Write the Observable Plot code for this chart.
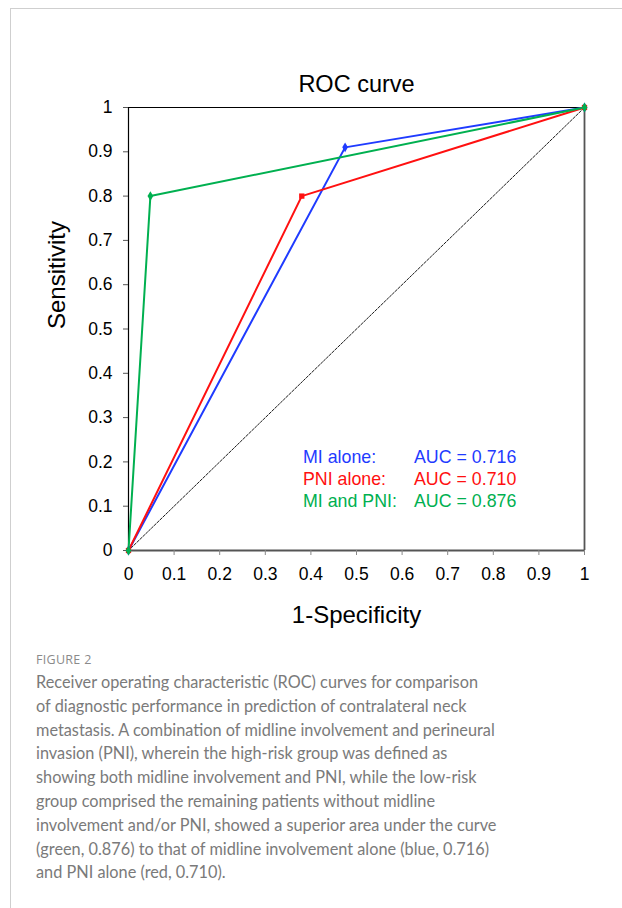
<!DOCTYPE html>
<html>
<head>
<meta charset="utf-8">
<script src="https://cdn.jsdelivr.net/npm/d3@7"></script>
<script src="https://cdn.jsdelivr.net/npm/@observablehq/plot@0.6"></script>
<style>
  html, body { margin: 0; padding: 0; background: #fff; }
  body { width: 622px; height: 908px; position: relative; overflow: hidden; font-family: "Liberation Sans", Arial, sans-serif; }
  #card { position: absolute; left: 10px; top: 8px; width: 700px; height: 1000px; border-left: 1px solid #cfcfcf; border-top: 1px solid #cfcfcf; }
  #chart { position: absolute; left: 0; top: 0; }
  #legend { position: absolute; left: 303px; top: 446px; font-size: 17.8px; line-height: 22px; }
  #legend .row { position: relative; height: 22px; white-space: nowrap; }
  #legend .auc { position: absolute; left: 111px; top: 0; }
  #figlabel { position: absolute; left: 36px; top: 651px; font-family: "Open Sans", sans-serif; font-size: 12.5px; color: #8a8a8a; letter-spacing: 0.3px; }
  #caption { position: absolute; left: 36px; top: 670px; font-family: Lato, sans-serif; font-size: 16.3px; line-height: 23.8px; color: #7a7a7a; white-space: nowrap; font-weight: 400; }
</style>
</head>
<body>
<div id="card"></div>
<div id="chart"></div>
<div id="legend"></div>
<div id="figlabel">FIGURE 2</div>
<div id="caption"></div>
<script>
const seriesNames = ["MI alone", "PNI alone", "MI and PNI"];
const seriesColors = ["#1f3bff", "#ff1010", "#00b050"];
const legendLabels = ["MI alone:", "PNI alone:", "MI and PNI:"];
const aucValues = ["0.716", "0.710", "0.876"];
const fprMI = [0, 0.475, 1];
const tprMI = [0, 0.91, 1];
const fprPNI = [0, 0.38, 1];
const tprPNI = [0, 0.80, 1];
const fprBoth = [0, 0.048, 1];
const tprBoth = [0, 0.80, 1];
const refLine = [0, 1];
const tickValues = [0, 0.1, 0.2, 0.3, 0.4, 0.5, 0.6, 0.7, 0.8, 0.9, 1];
const titleText = "ROC curve";
const xLabel = "1-Specificity";
const yLabel = "Sensitivity";
const captionLines = [
  "Receiver operating characteristic (ROC) curves for comparison",
  "of diagnostic performance in prediction of contralateral neck",
  "metastasis. A combination of midline involvement and perineural",
  "invasion (PNI), wherein the high-risk group was defined as",
  "showing both midline involvement and PNI, while the low-risk",
  "group comprised the remaining patients without midline",
  "involvement and/or PNI, showed a superior area under the curve",
  "(green, 0.876) to that of midline involvement alone (blue, 0.716)",
  "and PNI alone (red, 0.710)."
];

const allX = [fprMI, fprPNI, fprBoth];
const allY = [tprMI, tprPNI, tprBoth];
const data = [];
seriesNames.forEach((s, i) => allX[i].forEach((x, j) => data.push({series: s, x, y: allY[i][j]})));
const diag = refLine.map(v => ({x: v, y: v}));
const symbols = ["diamond", "square", "diamond"];
const fmt = d => String(+d.toFixed(1));

const chart = Plot.plot({
  width: 622,
  height: 640,
  marginLeft: 128,
  marginRight: 38,
  marginTop: 107,
  marginBottom: 90,
  style: {fontFamily: "'Liberation Sans', Arial, sans-serif", background: "transparent", overflow: "visible"},
  x: {domain: [0, 1]},
  y: {domain: [0, 1]},
  color: {domain: seriesNames, range: seriesColors},
  symbol: {domain: seriesNames, range: symbols},
  marks: [
    Plot.line(diag, {x: "x", y: "y", stroke: "#000", strokeWidth: 0.9, strokeDasharray: "2.5,1.5"}),
    Plot.ruleY([1], {stroke: "#000", strokeWidth: 1.2}),
    Plot.ruleX([1], {stroke: "#555", strokeWidth: 1.8}),
    Plot.ruleY([0], {stroke: "#555", strokeWidth: 1.8}),
    Plot.ruleX([0], {stroke: "#000", strokeWidth: 1.2}),
    Plot.axisY(tickValues, {ticks: tickValues, tickFormat: fmt, tickSize: 5, tickPadding: 11, fontSize: 17.5, color: "#000", stroke: "#555", label: null}),
    Plot.axisX(tickValues, {ticks: tickValues, tickFormat: fmt, tickSize: 5, tickPadding: 12, fontSize: 17.5, color: "#000", stroke: "#888", label: null}),
    Plot.line(data, {x: "x", y: "y", z: "series", stroke: "series", strokeWidth: 2}),
    Plot.dot(data, {x: "x", y: "y", fill: "series", symbol: "series", r: 3}),
    Plot.text([titleText], {frameAnchor: "top", lineAnchor: "middle", dy: -23, fontSize: 23.5, fill: "#000"}),
    Plot.text([xLabel], {frameAnchor: "bottom", lineAnchor: "middle", dy: 65, fontSize: 24, fill: "#000"}),
    Plot.text([yLabel], {frameAnchor: "left", dx: -71, rotate: -90, fontSize: 24, fill: "#000"})
  ]
});
document.getElementById("chart").appendChild(chart);

const legend = document.getElementById("legend");
legendLabels.forEach((l, i) => {
  const row = document.createElement("div");
  row.className = "row";
  row.style.color = seriesColors[i];
  row.innerHTML = `<span>${l}</span><span class="auc">AUC = ${aucValues[i]}</span>`;
  legend.appendChild(row);
});
document.getElementById("caption").innerHTML = captionLines.join("<br>");
</script>
</body>
</html>
